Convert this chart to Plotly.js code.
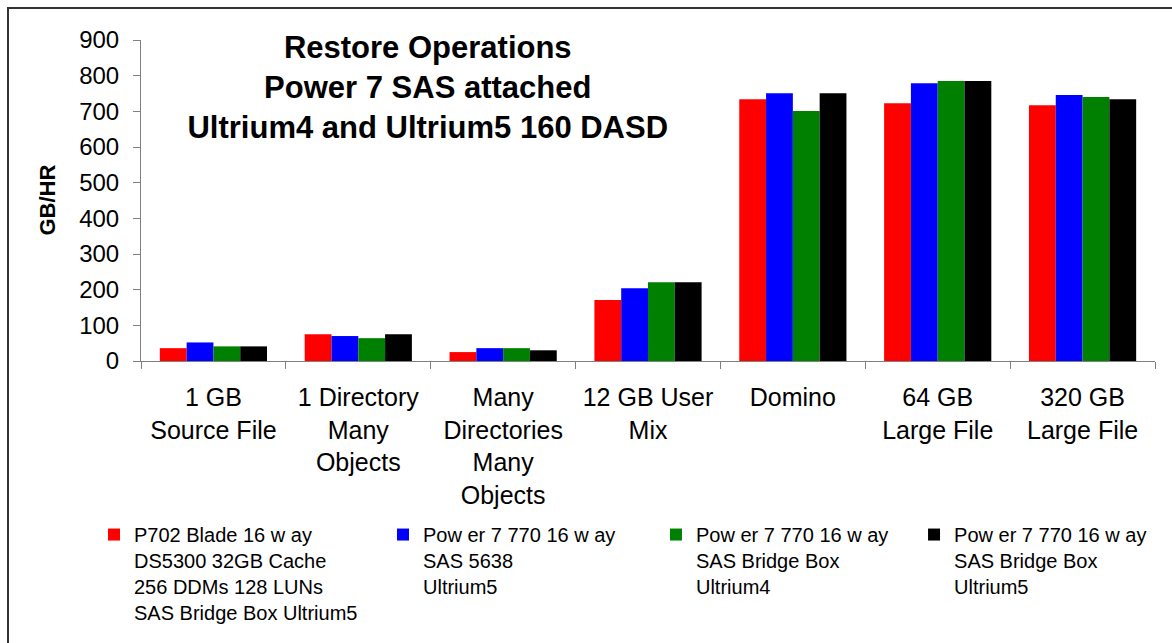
<!DOCTYPE html>
<html>
<head>
<meta charset="utf-8">
<script src="https://cdn.plot.ly/plotly-3.0.1.min.js"></script>
<style>
  body { margin: 0; background: #fff; }
  #wrap { position: relative; width: 1172px; height: 643px; }
  #graph { width: 1172px; height: 643px; }
  /* frame round the chart: only top and left edges are visible */
  #frame { position: absolute; left: 7px; top: 7px; right: -10px; bottom: -10px;
           border-left: 2px solid #333; border-top: 2px solid #333; pointer-events: none; }
</style>
</head>
<body>
<div id="wrap">
  <div id="graph"></div>
  <div id="frame"></div>
</div>
<script>
// categories on the x axis (line breaks as in the chart)
var categories = [
    "1 GB<br>Source File",
    "1 Directory<br>Many<br>Objects",
    "Many<br>Directories<br>Many<br>Objects",
    "12 GB User<br>Mix",
    "Domino",
    "64 GB<br>Large File",
    "320 GB<br>Large File"
];

// series names
var seriesNames = [
    "P702 Blade 16 w ay<br>DS5300 32GB Cache<br>256 DDMs 128 LUNs<br>SAS Bridge Box Ultrium5",
    "Pow er 7 770 16 w ay<br>SAS 5638<br>Ultrium5",
    "Pow er 7 770 16 w ay<br>SAS Bridge Box<br>Ultrium4",
    "Pow er 7 770 16 w ay<br>SAS Bridge Box<br>Ultrium5"
];

// GB/HR values
var p702Blade   = [36, 75, 25, 171, 734, 723, 717];
var sas5638U5   = [52, 70, 36, 204, 751, 779, 746];
var bridgeBoxU4 = [41, 64, 36, 221, 701, 785, 740];
var bridgeBoxU5 = [41, 75, 30, 221, 751, 785, 734];

var seriesValues = [p702Blade, sas5638U5, bridgeBoxU4, bridgeBoxU5];
var seriesColors = ["#ff0000", "#0000ff", "#008000", "#000000"];

var yTicks = [0, 100, 200, 300, 400, 500, 600, 700, 800, 900];

// one legend box per series so the four entries sit where the original has them
var legendIds = ["legend", "legend2", "legend3", "legend4"];
var legendX = [0.0802, 0.3268, 0.5597, 0.7799];

function drawGraph() {
    var data = [];
    for (var i = 0; i < seriesValues.length; i++) {
        data.push({
            x: categories,
            y: seriesValues[i],
            type: "bar",
            name: seriesNames[i],
            legend: legendIds[i],
            marker: { color: seriesColors[i], line: { width: 0 } }
        });
    }

    var layout = {
        width: 1172,
        height: 643,
        font: { family: "Liberation Sans, Arial, sans-serif", color: "#000" },
        paper_bgcolor: "#fff",
        plot_bgcolor: "#fff",
        // fixed margins: the legends must not push the plot area around
        margin: { l: 141, r: 17, t: 40, b: 282, autoexpand: false },
        showlegend: true,
        barmode: "group",
        bargap: 0.26,
        bargroupgap: 0,
        title: {
            text: "<b>Restore Operations<br>Power 7 SAS attached<br>Ultrium4 and Ultrium5 160 DASD</b>",
            font: { size: 31, color: "#000" },
            x: 0.365,
            xanchor: "center",
            y: 0.91,
            yanchor: "middle"
        },
        xaxis: {
            type: "category",
            tickson: "boundaries",
            ticks: "outside",
            ticklen: 7,
            tickcolor: "#808080",
            showline: true,
            linecolor: "#808080",
            linewidth: 1,
            showgrid: false,
            tickangle: 0,
            automargin: false,
            tickfont: { size: 25 },
            ticklabelstandoff: 14
        },
        yaxis: {
            range: [0, 900],
            tickvals: yTicks,
            ticks: "outside",
            ticklen: 7,
            tickcolor: "#808080",
            showline: true,
            linecolor: "#808080",
            linewidth: 1,
            showgrid: false,
            zeroline: false,
            automargin: false,
            tickfont: { size: 24 },
            ticklabelstandoff: 9
        },
        // y axis title as an annotation, since the margins are fixed
        annotations: [{
            text: "<b>GB/HR</b>",
            xref: "paper",
            yref: "paper",
            x: -0.0927,
            y: 0.5,
            xanchor: "center",
            yanchor: "middle",
            textangle: -90,
            showarrow: false,
            font: { size: 22, color: "#000" }
        }]
    };

    for (var k = 0; k < legendIds.length; k++) {
        layout[legendIds[k]] = {
            xref: "container",
            yref: "container",
            x: legendX[k],
            xanchor: "left",
            y: 0.199,
            yanchor: "top",
            valign: "top",
            font: { size: 20 },
            bgcolor: "rgba(0,0,0,0)"
        };
    }

    Plotly.newPlot("graph", data, layout, { displayModeBar: false, staticPlot: true });
}

drawGraph();
</script>
</body>
</html>
